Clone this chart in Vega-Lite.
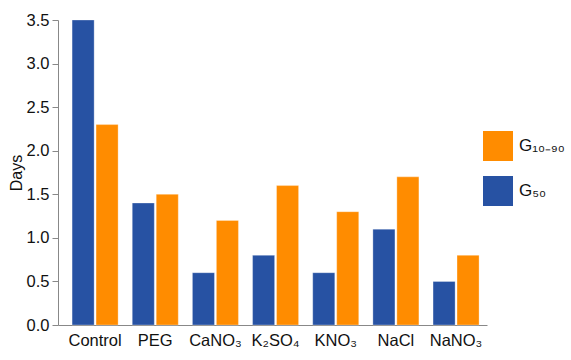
{
  "$schema": "https://vega.github.io/schema/vega-lite/v6.json",
  "autosize": "none",
  "width": 429,
  "height": 305,
  "padding": {"left": 58, "top": 20, "right": 84, "bottom": 35},
  "background": "white",
  "config": {
    "view": {"stroke": null},
    "font": "Liberation Sans",
    "axis": {"labelFont": "Liberation Sans", "titleFont": "Liberation Sans", "labelColor": "#111", "titleColor": "#111", "domainColor": "#888", "tickColor": "#888", "grid": false}
  },
  "data": {
    "values": [
      {"treatment": "Control", "series": "G50", "days": 3.5},
      {"treatment": "Control", "series": "G10-90", "days": 2.3},
      {"treatment": "PEG", "series": "G50", "days": 1.4},
      {"treatment": "PEG", "series": "G10-90", "days": 1.5},
      {"treatment": "CaNO₃", "series": "G50", "days": 0.6},
      {"treatment": "CaNO₃", "series": "G10-90", "days": 1.2},
      {"treatment": "K₂SO₄", "series": "G50", "days": 0.8},
      {"treatment": "K₂SO₄", "series": "G10-90", "days": 1.6},
      {"treatment": "KNO₃", "series": "G50", "days": 0.6},
      {"treatment": "KNO₃", "series": "G10-90", "days": 1.3},
      {"treatment": "NaCl", "series": "G50", "days": 1.1},
      {"treatment": "NaCl", "series": "G10-90", "days": 1.7},
      {"treatment": "NaNO₃", "series": "G50", "days": 0.5},
      {"treatment": "NaNO₃", "series": "G10-90", "days": 0.8}
    ]
  },
  "mark": {"type": "bar", "stroke": "#ffffff", "strokeWidth": 0.6, "strokeOpacity": 0.5},
  "encoding": {
    "x": {
      "field": "treatment", "type": "nominal", "sort": null, "title": null,
      "scale": {"paddingInner": 0.235, "paddingOuter": 0.183, "align": 0.64},
      "axis": {"labelAngle": 0, "labelFontSize": 16.5, "ticks": false, "labelPadding": 7}
    },
    "xOffset": {
      "field": "series", "type": "nominal", "sort": ["G50", "G10-90"],
      "scale": {"paddingInner": 0.08}
    },
    "y": {
      "field": "days", "type": "quantitative", "title": "Days",
      "scale": {"domain": [0, 3.5], "nice": false},
      "axis": {"values": [0, 0.5, 1, 1.5, 2, 2.5, 3, 3.5], "format": ".1f", "labelFontSize": 16.5, "titleFontSize": 16, "titleFontWeight": "normal", "tickSize": 6, "labelPadding": 3, "titlePadding": 2}
    },
    "color": {
      "field": "series", "type": "nominal",
      "scale": {"domain": ["G10-90", "G50"], "range": ["#FF8C00", "#2752A3"]},
      "legend": {
        "title": null, "orient": "none", "legendX": 425, "legendY": 111, "padding": 0,
        "symbolType": "square", "symbolSize": 900, "symbolStrokeWidth": 0, "rowPadding": 15,
        "labelFontSize": 17, "labelOffset": 6, "labelColor": "#111",
        "labelExpr": "datum.label == 'G50' ? 'G₅₀' : 'G₁₀₋₉₀'"
      }
    }
  }
}
